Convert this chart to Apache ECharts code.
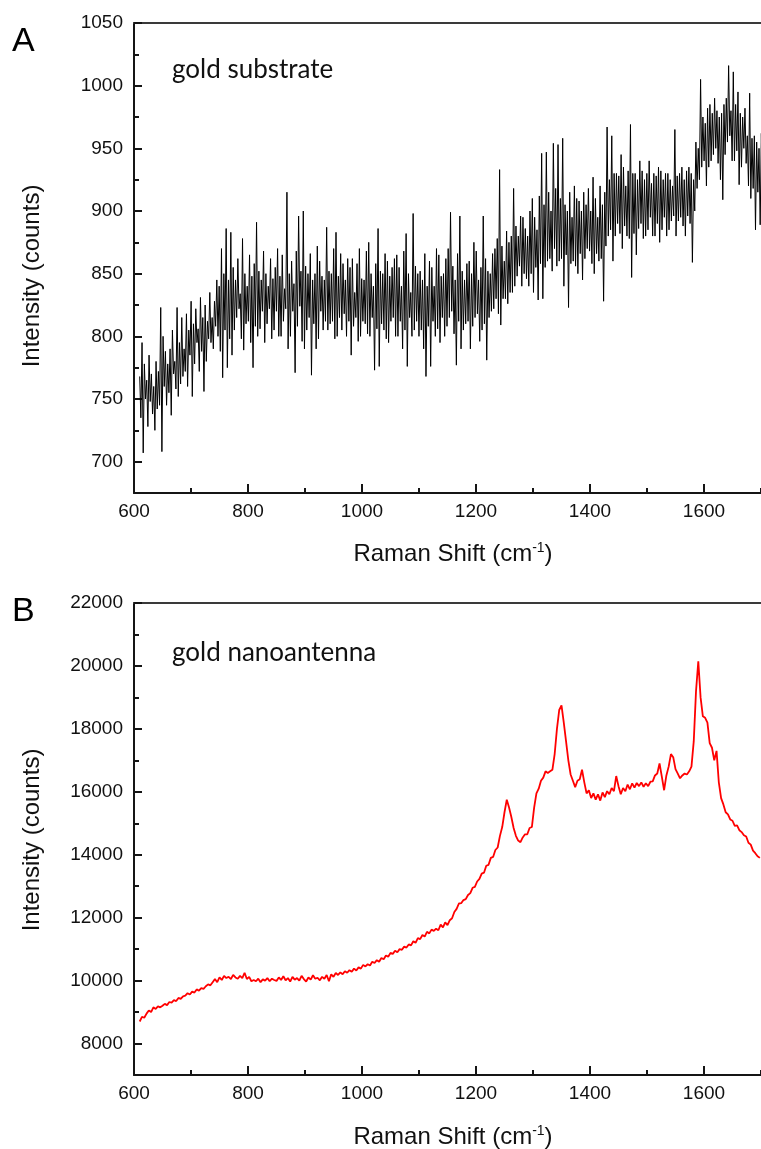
<!DOCTYPE html>
<html><head><meta charset="utf-8">
<script src="https://cdn.jsdelivr.net/npm/echarts@6/dist/echarts.min.js"></script>
<style>html,body{margin:0;padding:0;background:#fff}#c{width:761px;height:1149px}</style>
</head><body><div id="c"></div>
<script>
// ---- data ----
const topShiftStart = 610, topShiftStep = 4.1;   // Raman shift sampling (cm-1), panel A
// upper readings of the noisy trace (one per sampling step)
const topUpper = [
768,795,778,765,785,770,760,780,772,823,
800,788,778,790,805,780,823,795,815,790,
818,805,828,810,822,806,831,815,825,812,
835,815,828,845,840,870,850,886,845,883,
855,845,862,834,878,850,840,865,848,858,
891,852,845,868,850,840,862,846,855,870,
848,865,838,915,850,860,842,868,896,852,
900,856,850,866,845,850,872,860,848,845,
887,852,850,870,883,848,866,858,845,862,
855,862,835,858,870,846,845,868,875,850,
840,858,886,852,850,866,860,848,855,862,
865,855,840,868,882,850,835,898,856,850,
852,845,866,840,860,855,840,870,865,848,
850,862,870,899,856,845,866,896,852,845,
858,860,850,875,868,845,855,896,862,852,
850,866,870,878,933,872,860,884,875,880,
918,888,880,896,895,886,880,900,910,895,
885,912,946,905,947,915,900,954,918,953,
910,958,905,900,915,895,920,910,908,900,
915,905,918,900,927,910,895,920,905,915,
967,925,960,930,930,928,945,935,920,932,
969,930,930,925,940,932,925,930,940,922,
930,928,935,932,925,930,930,925,920,965,
928,930,935,925,932,935,930,925,955,950,
1005,975,970,982,985,978,990,980,975,978,
985,990,1016,980,1011,985,995,978,975,982,
960,994,958,960,955,950,962,950,952,956,
955,935,948
];
// lower readings of the noisy trace (half a step after each upper reading)
const topLower = [
735,707,750,728,748,738,725,742,745,708,
760,745,755,737,770,758,752,762,768,772,
760,785,752,778,795,772,788,756,780,798,
795,790,808,800,788,767,805,775,798,785,
805,815,822,798,789,810,812,795,775,808,
800,806,820,795,810,822,798,805,820,800,
800,812,822,790,800,820,771,808,824,796,
790,805,815,769,810,790,798,820,805,812,
805,810,812,798,800,815,805,818,800,812,
785,808,815,796,800,812,810,802,800,815,
773,806,776,810,805,798,795,812,815,800,
800,812,790,805,776,815,800,805,812,800,
805,790,768,808,776,812,800,806,795,815,
800,808,815,820,802,777,812,790,805,810,
812,790,808,815,818,796,805,810,781,815,
820,822,830,818,809,830,830,826,835,835,
840,848,856,840,850,846,840,850,835,855,
829,858,830,855,860,862,852,870,856,860,
862,840,865,823,858,860,856,850,866,845,
862,870,868,858,850,866,860,862,828,872,
880,885,860,880,890,882,870,888,880,878,
847,882,865,886,890,878,880,885,895,880,
880,890,875,885,895,880,885,892,896,880,
892,895,888,880,896,890,859,900,918,925,
935,940,920,935,940,945,950,938,925,909,
945,955,960,940,940,948,921,935,950,938,
920,910,918,885,915,889,912,900,920,880,
915,900
];
const botShiftStart = 610, botShiftStep = 4;     // Raman shift sampling (cm-1), panel B
const botIntensity = [
8700,8850,8820,8950,9050,9000,9150,9100,9180,9150,
9200,9260,9220,9320,9300,9380,9350,9450,9420,9500,
9520,9600,9560,9650,9620,9720,9680,9760,9740,9820,
9880,9850,9950,10050,9950,10100,10020,10150,10080,10120,
10050,10180,10100,10060,10150,10080,10250,10050,10120,9980,
10020,9980,10060,9950,10040,10000,10080,9980,10060,10020,
9990,10100,10020,10140,10010,10080,9970,10120,10030,10080,
10000,10150,10050,9970,10100,10030,10170,10060,10090,10010,
10120,10060,10180,9980,10200,10120,10240,10180,10260,10200,
10300,10250,10330,10280,10380,10320,10420,10380,10500,10450,
10520,10480,10600,10560,10650,10600,10720,10680,10800,10760,
10880,10850,10950,10900,11000,10980,11080,11050,11150,11120,
11250,11200,11350,11320,11450,11400,11550,11500,11620,11580,
11650,11600,11780,11690,11850,11760,11920,11980,12180,12280,
12450,12460,12560,12590,12720,12780,12950,12980,13150,13230,
13400,13430,13650,13680,13900,13930,14150,14230,14600,14880,
15350,15750,15500,15200,14850,14600,14450,14400,14550,14650,
14650,14850,14880,15500,15950,16100,16350,16450,16650,16600,
16650,16700,17200,18000,18600,18750,18200,17600,17000,16550,
16350,16150,16350,16400,16700,16300,15950,16050,15800,15950,
15750,15920,15720,15980,15830,16020,15920,16120,16020,16500,
16180,15920,16120,16020,16230,16080,16270,16130,16280,16180,
16300,16160,16270,16180,16320,16330,16520,16580,16900,16480,
16050,16520,16800,17200,17100,16720,16580,16430,16520,16580,
16550,16650,16800,17600,19200,20150,19000,18400,18350,18200,
17550,17400,17000,17300,16300,15800,15600,15350,15280,15120,
15080,14920,14930,14780,14720,14620,14580,14380,14320,14130,
14050,13950,13900
];
const xTickLabels = [600, 800, 1000, 1200, 1400, 1600];
const xMinorTicks = [700, 900, 1100, 1300, 1500, 1700];
const topYLabels = [700, 750, 800, 850, 900, 950, 1000, 1050];
const topYMinor = [725, 775, 825, 875, 925, 975, 1025];
const botYLabels = [8000, 10000, 12000, 14000, 16000, 18000, 20000, 22000];
const botYMinor = [9000, 11000, 13000, 15000, 17000, 19000, 21000];

// ---- chart ----
const AX = '#151515';
const FONT = 'Liberation Sans, Arial, sans-serif';
const plain = v => String(v);
function xAxes(g) {
  return [
    {type:'value', gridIndex:g, min:600, max:1700, position:'bottom',
     axisLine:{show:true, onZero:false, lineStyle:{color:AX, width:2}},
     axisTick:{show:true, inside:true, length:9, customValues:xTickLabels, lineStyle:{color:AX, width:2}},
     axisLabel:{show:true, customValues:xTickLabels, formatter:plain, color:'#111', fontSize:19, fontFamily:FONT, margin:9},
     splitLine:{show:false}},
    {type:'value', gridIndex:g, min:600, max:1700, position:'bottom',
     axisLine:{show:false, onZero:false},
     axisTick:{show:true, inside:true, length:5, customValues:xMinorTicks, lineStyle:{color:AX, width:2}},
     axisLabel:{show:false}, splitLine:{show:false}},
    {type:'value', gridIndex:g, min:600, max:1700, position:'top',
     axisLine:{show:true, onZero:false, lineStyle:{color:'#3a3a3a', width:2}},
     axisTick:{show:false}, axisLabel:{show:false}, splitLine:{show:false}}
  ];
}
function yAxes(g, mn, mx, labels, minor) {
  return [
    {type:'value', gridIndex:g, min:mn, max:mx, position:'left',
     axisLine:{show:true, onZero:false, lineStyle:{color:AX, width:2}},
     axisTick:{show:true, inside:true, length:8, customValues:labels, lineStyle:{color:AX, width:2}},
     axisLabel:{show:true, customValues:labels, formatter:plain, color:'#111', fontSize:19, fontFamily:FONT, margin:11},
     splitLine:{show:false}},
    {type:'value', gridIndex:g, min:mn, max:mx, position:'left',
     axisLine:{show:false, onZero:false},
     axisTick:{show:true, inside:true, length:5, customValues:minor, lineStyle:{color:AX, width:2}},
     axisLabel:{show:false}, splitLine:{show:false}}
  ];
}
const topData = [];
topUpper.forEach((v, i) => {
  const x = topShiftStart + i * topShiftStep;
  topData.push([x, v]);
  if (i < topLower.length) topData.push([x + topShiftStep / 2, topLower[i]]);
});
const botData = botIntensity.map((v, i) => [botShiftStart + i * botShiftStep, v]);

function xTitle(y) {
  return {type:'text', x:453, y:y, style:{
    text:'{a|Raman Shift (cm}{s|-1}{a|)}', textAlign:'center', textVerticalAlign:'middle',
    rich:{a:{fontSize:24, fontFamily:FONT, fill:'#111'}, s:{fontSize:14, fontFamily:FONT, fill:'#111', padding:[0,0,12,0]}}}};
}
function yTitle(y) {
  return {type:'text', x:32, y:y, rotation:Math.PI/2, style:{
    text:'Intensity (counts)', textAlign:'center', textVerticalAlign:'middle',
    font:'24px ' + FONT, fill:'#111'}};
}

const chart = echarts.init(document.getElementById('c'), null, {renderer:'canvas'});
chart.setOption({
  animation:false,
  backgroundColor:'#fff',
  grid:[
    {left:134, right:0, top:23, bottom:656, containLabel:false},
    {left:134, right:0, top:603, bottom:74, containLabel:false}
  ],
  xAxis: xAxes(0).concat(xAxes(1)),
  yAxis: yAxes(0, 675, 1050, topYLabels, topYMinor).concat(yAxes(1, 7000, 22000, botYLabels, botYMinor)),
  series:[
    {type:'line', xAxisIndex:0, yAxisIndex:0, data:topData, showSymbol:false, symbol:'none',
     lineStyle:{color:'#000', width:1}, clip:true},
    {type:'line', xAxisIndex:3, yAxisIndex:2, data:botData, showSymbol:false, symbol:'none',
     lineStyle:{color:'#ff0000', width:1.8}, clip:true}
  ],
  graphic:[
    {type:'text', x:12, y:42, style:{text:'A', font:'34px ' + FONT, fill:'#000', textVerticalAlign:'middle'}},
    {type:'text', x:12, y:612, style:{text:'B', font:'34px ' + FONT, fill:'#000', textVerticalAlign:'middle'}},
    {type:'text', x:172, y:70, style:{text:'gold substrate', font:'26px Lato, "Open Sans", sans-serif', fill:'#111', textVerticalAlign:'middle'}},
    {type:'text', x:172, y:653, style:{text:'gold nanoantenna', font:'26px Lato, "Open Sans", sans-serif', fill:'#111', textVerticalAlign:'middle'}},
    xTitle(554), xTitle(1137), yTitle(276), yTitle(840)
  ]
});
</script></body></html>
